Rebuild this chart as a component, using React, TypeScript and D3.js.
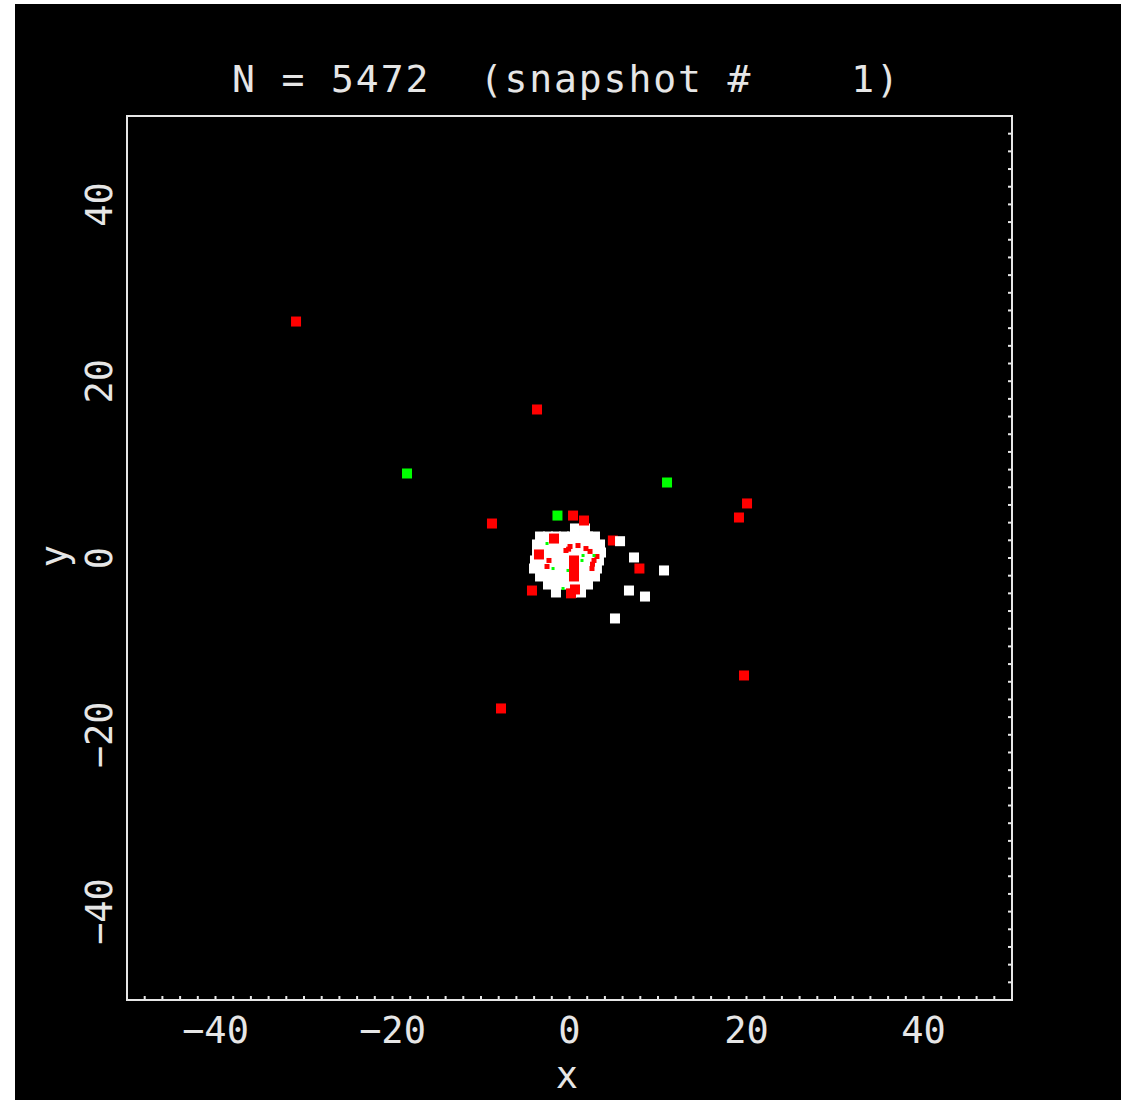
import React from 'react'
import * as d3 from 'd3'

// snapshot particles, data coordinates
const whiteCore: [number, number][] = [
  [0.62, 3.34], [1.75, 3.34],
  [-3.33, 2.43], [-2.43, 2.43], [-1.53, 2.43], [-0.62, 2.43], [0.28, 2.43], [1.19, 2.43], [2.09, 2.43], [2.88, 2.43],
  [-3.67, 1.53], [-2.77, 1.53], [-1.86, 1.53], [-0.96, 1.53], [-0.06, 1.53], [0.85, 1.53], [1.75, 1.53], [2.66, 1.53], [3.45, 1.53],
  [-3.67, 0.62], [-2.77, 0.62], [-1.86, 0.62], [-0.96, 0.62], [-0.06, 0.62], [0.85, 0.62], [1.75, 0.62], [2.66, 0.62], [3.56, 0.62],
  [-3.9, -0.28], [-3.0, -0.28], [-2.09, -0.28], [-1.19, -0.28], [-0.28, -0.28], [0.62, -0.28], [1.53, -0.28], [2.43, -0.28], [3.33, -0.28],
  [-4.01, -1.19], [-3.1, -1.19], [-2.2, -1.19], [-1.3, -1.19], [-0.4, -1.19], [0.51, -1.19], [1.41, -1.19], [2.32, -1.19], [3.1, -1.19],
  [-3.33, -2.09], [-2.43, -2.09], [-1.53, -2.09], [-0.62, -2.09], [0.28, -2.09], [1.19, -2.09], [2.09, -2.09], [2.88, -2.09],
  [-2.43, -3.0], [-1.53, -3.0], [-0.62, -3.0], [0.28, -3.0], [1.19, -3.0], [2.09, -3.0],
  [-1.53, -3.9], [0.28, -3.9], [1.3, -3.9]
]

const redSmall: [number, number][] = [
  [0.06, 1.3], [0.96, 1.41], [1.86, 1.07], [-0.4, 0.85], [2.32, 0.74], [2.77, -0.28],
  [2.54, -1.19], [3.1, 0.17], [-2.32, -0.28], [-2.54, -0.96], [2.6, -0.7], [-0.1, 1.0]
]

const greenSmall: [number, number][] = [
  [-2.54, 1.64], [-1.86, -1.19], [-0.17, -1.41], [1.53, 0.28], [2.77, 0.28], [-0.73, -3.45], [1.41, -0.28]
]

const redBig: [number, number][] = [
  [-1.75, 2.2], [-3.45, 0.4], [0.51, -0.28], [0.51, -1.19], [0.51, -2.09], [0.17, -4.0], [0.62, -3.56],
  [0.4, 4.8], [1.64, 4.24], [-4.24, -3.68], [4.9, 1.98], [7.9, -1.19],
  [-30.9, 26.75], [-3.67, 16.8], [-8.76, 3.9], [19.15, 4.58], [20.06, 6.17], [19.72, -13.29], [-7.74, -17.02]
]

const whiteHalo: [number, number][] = [
  [5.71, 1.9], [7.29, 0.06], [10.68, -1.41], [6.72, -3.68], [8.53, -4.36], [5.14, -6.84]
]

const greenBig: [number, number][] = [
  [-1.36, 4.8], [-18.36, 9.56], [11.02, 8.54]
]

const tickLabels = [-40, -20, 0, 20, 40]
const title = 'N = 5472  (snapshot #    1)'

const W = 1124
const H = 1103
const FONT = '"DejaVu Sans Mono", monospace'
const INK = '#e6e6e6'

export default function App () {
  const x = d3.scaleLinear().domain([-50, 50]).range([127, 1012])
  const y = d3.scaleLinear().domain([-50, 50]).range([1000, 116])
  const minor = x.ticks(50)
  const fmt = (v: number) => (v < 0 ? '\u2212' + Math.abs(v) : String(v))

  const squares = (pts: [number, number][], color: string, s: number, key: string) =>
    pts.map((p, i) => (
      <rect key={key + i} x={x(p[0]) - s / 2} y={y(p[1]) - s / 2} width={s} height={s} fill={color} />
    ))

  return (
    <svg width={W} height={H} style={{ position: 'absolute', left: 0, top: 0 }}>
      <rect x={0} y={0} width={W} height={H} fill='#fff' />
      <rect x={15} y={4} width={1106} height={1096} fill='#000' />

      <text x={232} y={92} fill={INK} fontFamily={FONT} fontSize={38}
        textLength={667} lengthAdjust='spacing' style={{ whiteSpace: 'pre' }}>{title}</text>

      {squares(whiteCore, '#fff', 10, 'wc')}
      {squares(redSmall, '#ff0000', 5, 'rs')}
      {squares(greenSmall, '#00ff00', 3, 'gs')}
      {squares(redBig, '#ff0000', 10, 'rb')}
      {squares(whiteHalo, '#fff', 10, 'wh')}
      {squares(greenBig, '#00ff00', 10, 'gb')}

      <rect x={127} y={116} width={885} height={884} fill='none' stroke={INK} strokeWidth={2} />
      {minor.map(t => (
        <line key={'bx' + t} x1={x(t)} x2={x(t)} y1={1000} y2={996} stroke={INK} strokeWidth={2} />
      ))}
      {minor.map(t => (
        <line key={'ry' + t} x1={1012} x2={1008} y1={y(t)} y2={y(t)} stroke={INK} strokeWidth={2} />
      ))}

      {tickLabels.map(t => (
        <text key={'xl' + t} x={x(t)} y={1043} fill={INK} fontFamily={FONT} fontSize={37}
          textAnchor='middle'>{fmt(t)}</text>
      ))}
      {tickLabels.map(t => (
        <text key={'yl' + t} transform={`translate(112,${y(t)}) rotate(-90)`} fill={INK}
          fontFamily={FONT} fontSize={37} textAnchor='middle'>{fmt(t)}</text>
      ))}

      <text x={567} y={1088} fill={INK} fontFamily={FONT} fontSize={37} textAnchor='middle'>x</text>
      <text transform='translate(67,556) rotate(-90)' fill={INK} fontFamily={FONT} fontSize={37}
        textAnchor='middle'>y</text>
    </svg>
  )
}
